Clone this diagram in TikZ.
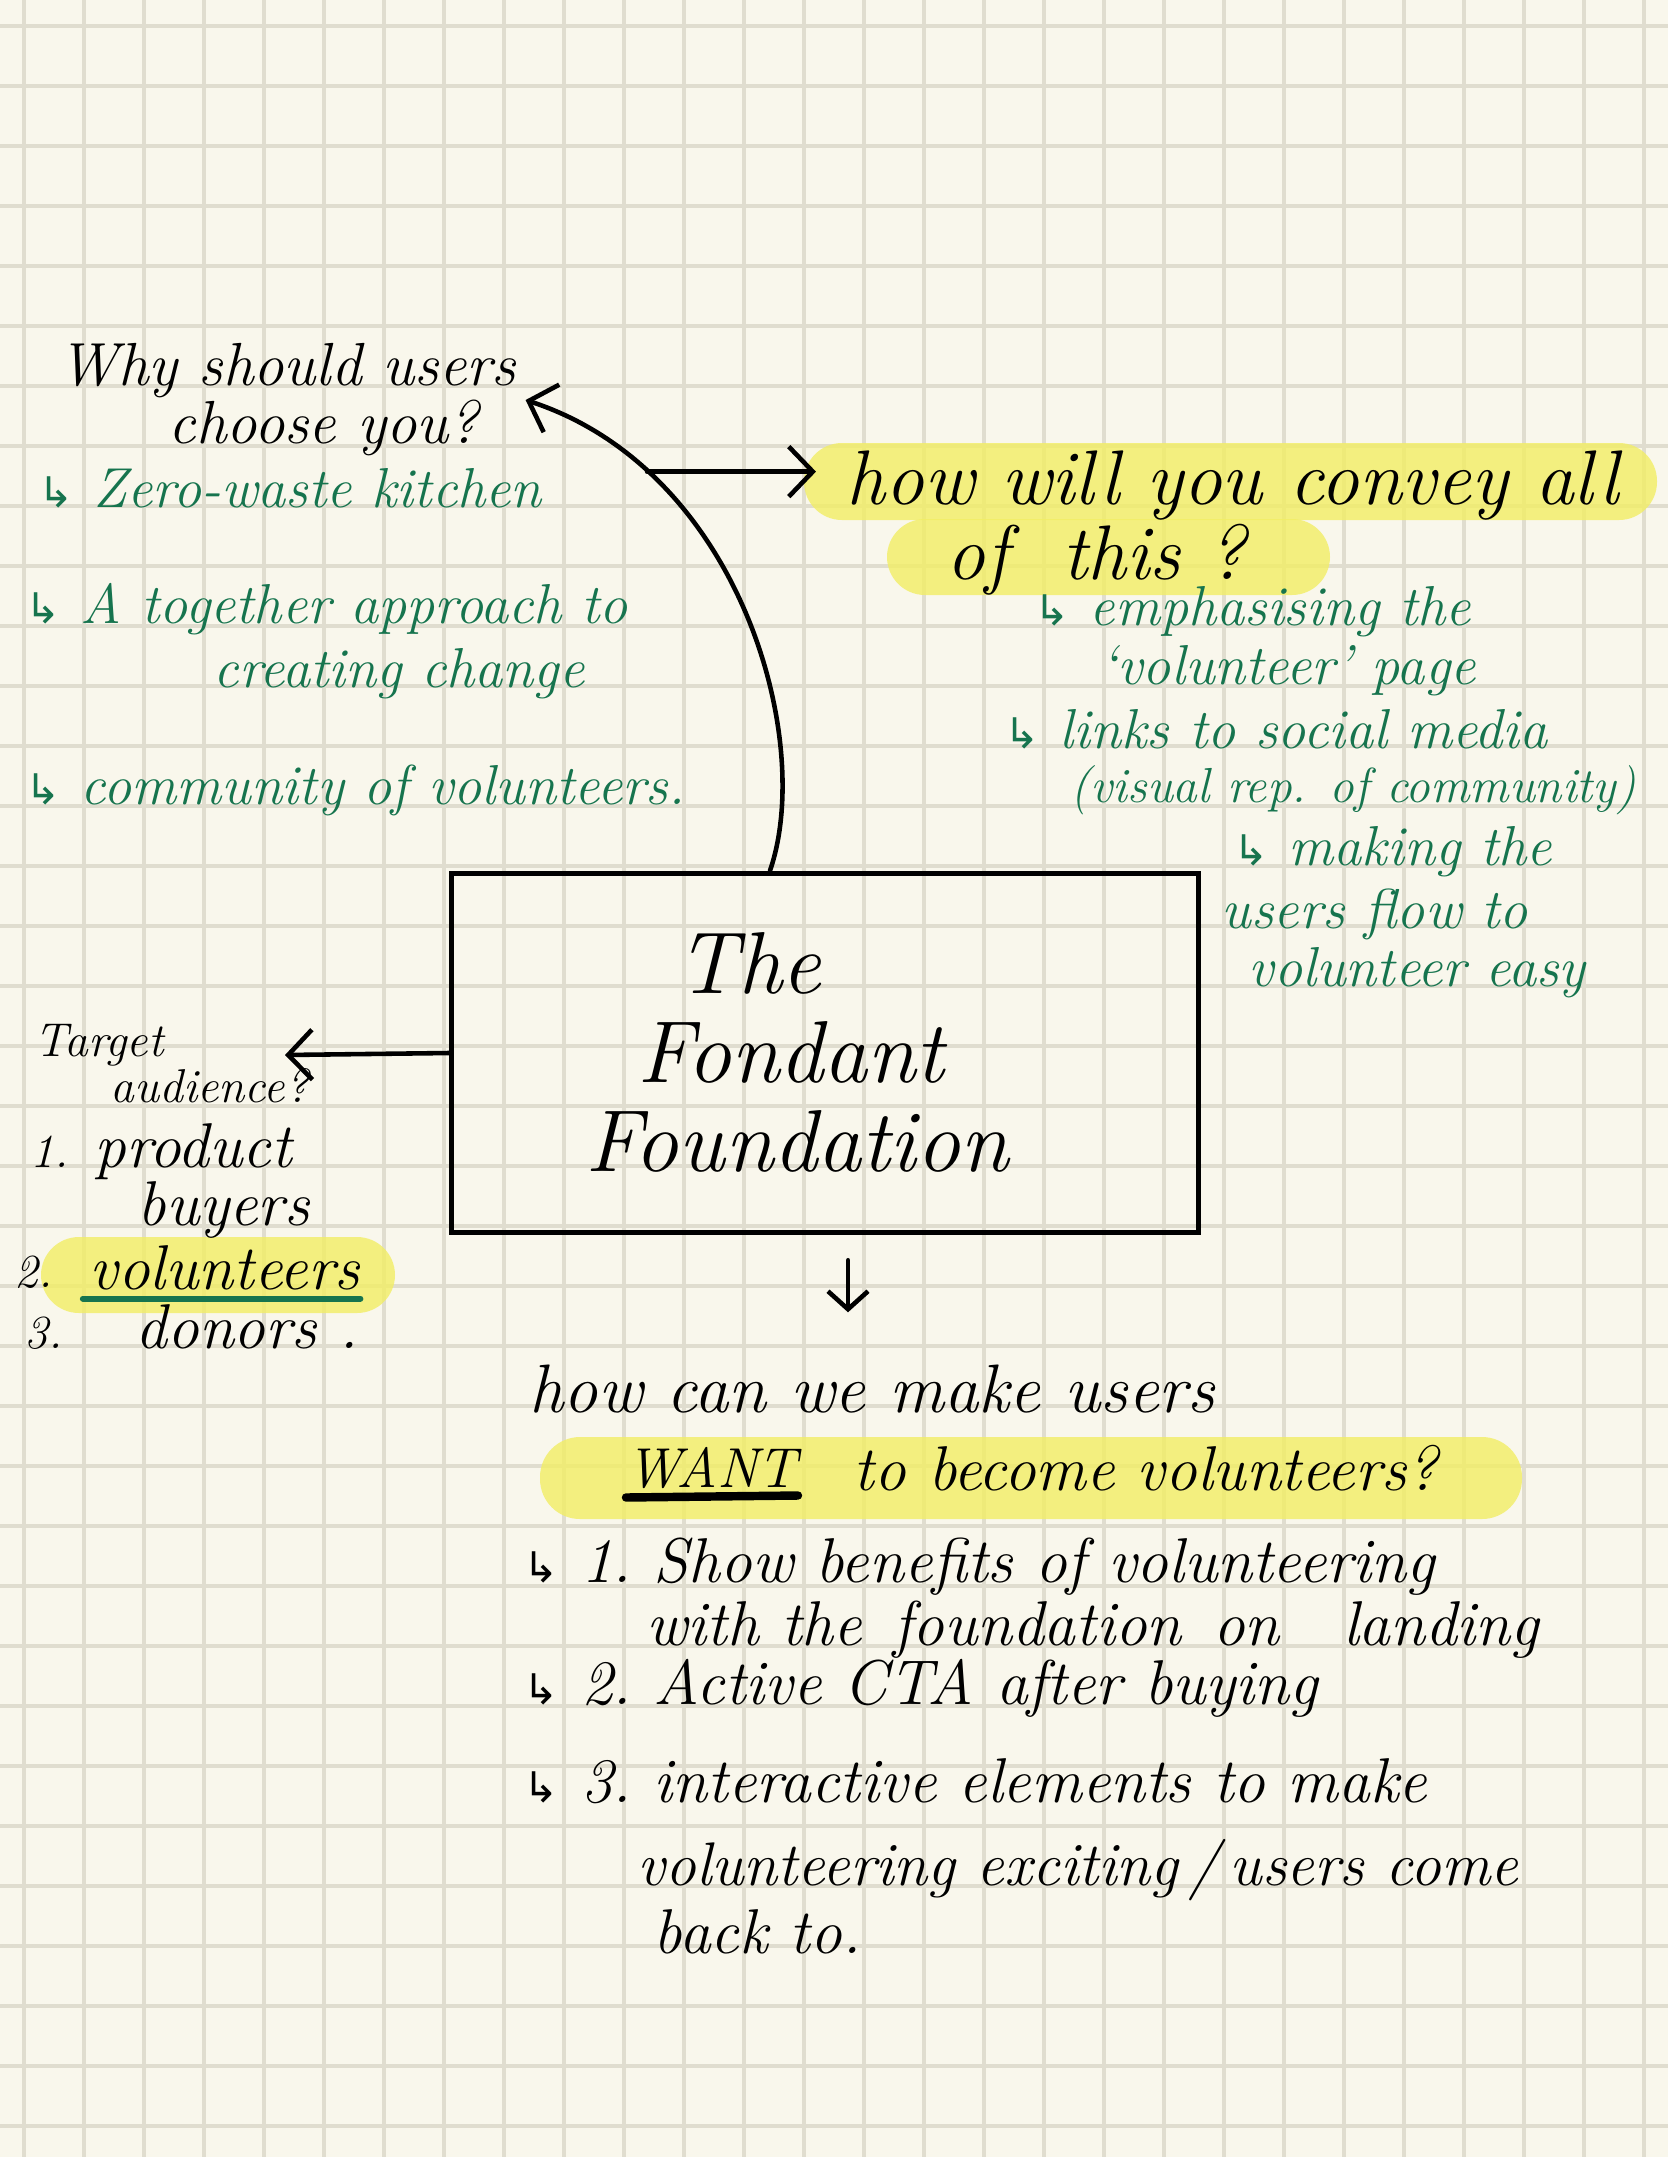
\documentclass[tikz,border=0pt]{standalone}
\usepackage{fontspec}
\usepackage{tikz}
\usetikzlibrary{positioning,calc,arrows.meta}

\newfontfamily\arrowglyphs{DejaVu Sans}
\newcommand{\hookarr}{{\arrowglyphs\fontsize{12}{12}\selectfont ↳}\ }

\definecolor{paper}{RGB}{249,247,236}
\definecolor{gridrule}{RGB}{224,221,207}
\definecolor{inkgreen}{RGB}{22,116,78}
\definecolor{marker}{RGB}{242,238,100}

\tikzset{
  pen/.style={line width=1.3pt, line cap=round, line join=round},
  barb/.style={pen, -{Straight Barb[length=2.4mm, width=5mm]}},
  hand/.style={anchor=west, inner sep=0pt, font=\itshape\fontsize{18}{17}\selectfont},
  note/.style={hand, text=inkgreen, font=\itshape\fontsize{16}{16}\selectfont},
  big/.style={hand, font=\itshape\fontsize{22}{22}\selectfont},
  small/.style={hand, font=\itshape\fontsize{13.5}{14}\selectfont},
  title/.style={inner sep=0pt, font=\itshape\fontsize{25}{25}\selectfont},
  hilite/.style={fill=marker, fill opacity=0.8, rounded corners=3.8mm},
}

\begin{document}
\begin{tikzpicture}[x=0.01cm, y=-0.01cm]
  \useasboundingbox (0,0) rectangle (1668,2157);
  % paper and grid
  \fill[paper] (0,0) rectangle (1668,2157);
  \foreach \gx in {24,84,...,1644}
    \draw[gridrule, line width=1.1pt] (\gx,0) -- (\gx,2157);
  \foreach \gy in {26,86,...,2126}
    \draw[gridrule, line width=1.1pt] (0,\gy) -- (1668,\gy);

  % marker highlights
  \fill[hilite] (804,443) rectangle (1657,520);
  \fill[hilite] (887,519) rectangle (1330,595);
  \fill[hilite] (41,1237) rectangle (395,1313);
  \fill[hilite, rounded corners=4mm] (540,1437) rectangle (1522,1519);

  % central box
  \node[draw, line width=1.5pt, minimum width=7.46cm, minimum height=3.59cm] (box) at (825,1053) {};
  \node[title] (the) at (749,963) {The};
  \node[title] (fondant) at (791,1052) {Fondant};
  \node[title] (foundation) at (797,1141) {Foundation};

  % why choose you
  \node[hand, align=left, font=\itshape\fontsize{17.3}{16.5}\selectfont] (why) at (58,400) {Why should users\\\hspace*{1.1cm}choose you?};
  \node[note] (zero) at (38,488) {\hookarr Zero-waste kitchen};
  \node[note] (together) at (25,609) {\hookarr A together approach to};
  \node[note] (creating) at (213,674) {creating change};
  \node[note] (community) at (25,790) {\hookarr community of volunteers.};

  % how will you convey
  \node[big, text depth=0pt] (convey) at (846,478) {how will you convey all};
  \node[big] (ofthis) at (946,560) {of \ this ?};
  \node[note] (emph) at (1034,612) {\hookarr emphasising the};
  \node[note] (volpage) at (1100,671) {`volunteer' page};
  \node[note] (links) at (1004,729) {\hookarr links to social media};
  \node[note, font=\itshape\fontsize{14}{14}\selectfont] (visual) at (1070,790) {(visual rep. of community)};
  \node[note] (making) at (1233,852) {\hookarr making the};
  \node[note] (flow) at (1221,914) {users flow to};
  \node[note] (easy) at (1248,973) {volunteer easy};

  % target audience
  \node[small] (target) at (34,1045) {Target};
  \node[small] (audience) at (110,1086) {audience?};
  \node[small] (n1) at (30,1152) {1.};
  \node[hand] (product) at (94,1152) {product};
  \node[hand] (buyers) at (137,1210) {buyers};
  \node[small] (n2) at (14,1272) {2.};
  \node[hand] (volunteers) at (89,1268) {volunteers};
  \node[small] (n3) at (24,1333) {3.};
  \node[hand] (donors) at (135,1327) {donors .};
  \draw[pen, inkgreen, line width=1.8pt] ($(volunteers.base west)+(-6,9)$) -- ($(volunteers.base east)+(0,9)$);

  % make users want to volunteer
  \node[hand, font=\itshape\fontsize{19.5}{19}\selectfont] (howcan) at (529,1389) {how can we make users};
  \node[hand, font=\itshape\fontsize{16}{16}\selectfont] (wantword) at (626,1468) {WANT};
  \node[hand, right=0.55cm of wantword] (become) {to become volunteers?};
  \draw[pen, line width=2.4pt] ($(wantword.base west)+(0,10)$) -- ($(wantword.base east)+(0,8)$);
  \node[hand] (b1) at (523,1567) {\hookarr 1.\ Show benefits of volunteering};
  \node[hand] (b1b) at (646,1630) {with the\enspace foundation\enspace on\quad landing};
  \node[hand] (b2) at (523,1688) {\hookarr 2.\ Active CTA after buying};
  \node[hand] (b3) at (523,1781) {\hookarr 3.\ interactive elements to make};
  \node[hand, font=\itshape\fontsize{17.5}{17}\selectfont] (b3b) at (637,1870) {volunteering exciting\,/\,users come};
  \node[hand] (b3c) at (653,1932) {back to.};

  % connectors
  \draw[barb] ([xshift=-0.55cm]box.north) .. controls (815,740) and (740,470) .. ($(why.east)+(9,0)$)
    coordinate[pos=0.78] (fork);
  \draw[barb] (fork) -- ([xshift=-0.3cm]fork -| convey.west);
  \coordinate (audtip) at (285,1055);
  \draw[barb] (box.west) -- (audtip);
  \draw[barb, -{Straight Barb[length=1.8mm, width=4mm]}] ([xshift=0.23cm, yshift=-0.25cm]box.south) -- ([xshift=0.23cm, yshift=-0.77cm]box.south);
\end{tikzpicture}
\end{document}
